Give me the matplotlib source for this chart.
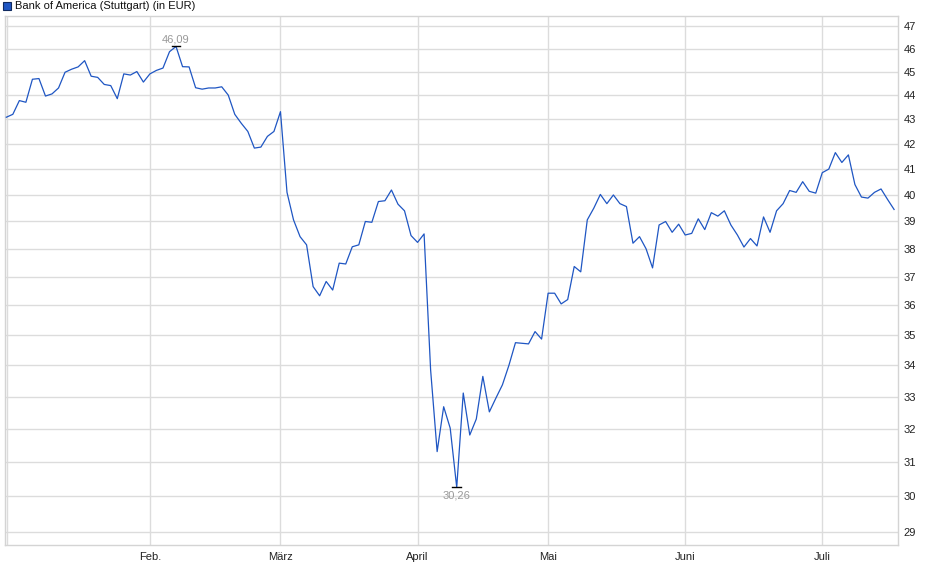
import numpy as np
import matplotlib
matplotlib.use("Agg")
import matplotlib.pyplot as plt
from matplotlib.ticker import FixedLocator, NullLocator, FixedFormatter

plt.rcParams['font.family'] = ['Liberation Sans', 'DejaVu Sans']

# Schlusskurse Bank of America (Stuttgart), in EUR, ein Wert je Handelstag
prices = [
    43.08, 43.20, 43.77, 43.70, 44.67, 44.70, 43.96, 44.05, 44.30, 44.97,
    45.10, 45.20, 45.47, 44.80, 44.75, 44.45, 44.40, 43.85, 44.90, 44.85,
    45.00, 44.55, 44.90, 45.05, 45.15, 45.86, 46.09, 45.21, 45.20, 44.31,
    44.25, 44.30, 44.30, 44.35, 44.00, 43.20, 42.83, 42.50, 41.83, 41.87,
    42.30, 42.50, 43.31, 40.10, 39.06, 38.44, 38.14, 36.65, 36.33, 36.83,
    36.53, 37.48, 37.45, 38.07, 38.14, 39.00, 38.97, 39.75, 39.78, 40.19,
    39.65, 39.40, 38.48, 38.23, 38.54, 33.85, 31.31, 32.68, 32.02, 30.26,
    33.11, 31.81, 32.30, 33.64, 32.52, 32.95, 33.37, 34.00, 34.74, 34.72,
    34.70, 35.11, 34.86, 36.42, 36.42, 36.05, 36.20, 37.36, 37.17, 39.06,
    39.50, 40.02, 39.67, 40.00, 39.67, 39.56, 38.20, 38.44, 38.00, 37.31,
    38.87, 39.00, 38.60, 38.90, 38.50, 38.56, 39.10, 38.70, 39.33, 39.20,
    39.40, 38.87, 38.50, 38.06, 38.37, 38.10, 39.17, 38.60, 39.40, 39.67,
    40.17, 40.10, 40.51, 40.14, 40.07, 40.86, 41.00, 41.65, 41.26, 41.56,
    40.40, 39.92, 39.88, 40.10, 40.23, 39.83, 39.45,
]

# erster Handelstag jedes Monats (Index in prices)
month_idx = [22, 42, 63, 83, 104, 125]
month_labels = ['Feb.', 'März', 'April', 'Mai', 'Juni', 'Juli']

y_ticks = list(range(29, 48))
title = 'Bank of America (Stuttgart) (in EUR)'

line_col = '#1f56c3'
grid_col = '#dcdcdc'

x = np.arange(len(prices))
y = np.array(prices)

fig = plt.figure(figsize=(9.4, 5.79), dpi=100)
ax = fig.add_axes([5 / 940, 1 - 545 / 579, 893 / 940, 529 / 579])

ax.plot(x, y, color=line_col, lw=0.9, zorder=3)

ax.set_yscale('log')
ax.set_ylim(28.64, 47.45)
ax.set_xlim(-0.2, 136.6)

ax.yaxis.set_major_locator(FixedLocator(y_ticks))
ax.yaxis.set_major_formatter(FixedFormatter([str(t) for t in y_ticks]))
ax.yaxis.set_minor_locator(NullLocator())
ax.yaxis.tick_right()
ax.xaxis.set_major_locator(FixedLocator(month_idx))
ax.xaxis.set_major_formatter(FixedFormatter(month_labels))
ax.xaxis.set_minor_locator(NullLocator())

ax.tick_params(axis='both', length=0, labelsize=8, labelcolor='#222222')
ax.tick_params(axis='y', pad=4)
ax.tick_params(axis='x', pad=5)

ax.grid(True, color=grid_col, lw=1, zorder=0)
for s in ax.spines.values():
    s.set_color('#d4d4d4')
    s.set_linewidth(1)
# zweite Linie am linken Rand wie im Original
ax.axvline(0.1, color=grid_col, lw=1, zorder=1)

# Hoch- und Tiefpunkt markieren
i_max = int(np.argmax(y))
i_min = int(np.argmin(y))
for i, off in ((i_max, 1.5), (i_min, -2.5)):
    ax.plot([i - 0.65, i + 0.65], [y[i], y[i]], color='black', lw=1, zorder=4)
    ax.annotate(f'{y[i]:.2f}'.replace('.', ','), (i, y[i]),
                xytext=(0, off), textcoords='offset points',
                ha='center', va='bottom' if off > 0 else 'top',
                fontsize=8, color='#999999')

# Legende oben links
fig.patches.append(plt.Rectangle((3 / 940, 1 - 10 / 579), 8 / 940, 8 / 579,
                                 transform=fig.transFigure, facecolor='#1f56c3',
                                 edgecolor='#102a60', lw=0.8))
fig.text(15 / 940, 1 - 6 / 579, title, fontsize=8, color='#111111', va='center', ha='left')

fig.savefig('out.png', dpi=100)
